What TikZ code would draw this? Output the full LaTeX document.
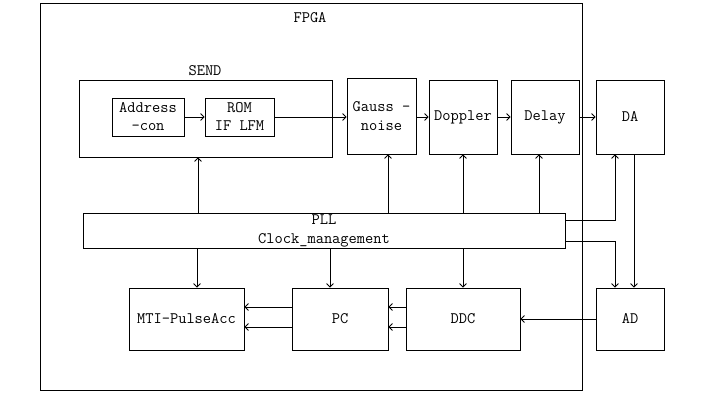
\documentclass[tikz,border=0pt]{standalone}
\usepackage{fontspec}
\usetikzlibrary{arrows.meta}

\begin{document}
\begin{tikzpicture}[x=1pt,y=-1pt,line width=0.8pt,
   every node/.style={font=\ttfamily\fontsize{16}{19}\selectfont},
   blk/.style={draw,inner sep=0pt,align=center},
   arr/.style={-{Straight Barb[length=3.5pt,width=7pt]}}]
   \useasboundingbox (0,0) rectangle (704,419);
   \node[blk,minimum width=542,minimum height=387] (fpga) at (311,196.5) {};
   \node (fpgalbl) at (310,18) {FPGA};
   \node[blk,minimum width=253,minimum height=77] (send) at (205.5,118.5) {};
   \node (sendlbl) at (205,71) {SEND};
   \node[blk,minimum width=72,minimum height=38] (addr) at (148,117) {Address\\[-1pt]-con};
   \node[blk,minimum width=69,minimum height=38] (rom) at (239.5,117) {ROM\\[-1pt]IF LFM};
   \node[blk,minimum width=69,minimum height=76] (gauss) at (381.5,116) {Gauss -\\noise};
   \node[blk,minimum width=68,minimum height=74] (doppler) at (463,117) {Doppler};
   \node[blk,minimum width=68,minimum height=74] (delay) at (545,117) {Delay};
   \node[blk,minimum width=68,minimum height=74] (da) at (630,117) {DA};
   \node[blk,minimum width=482,minimum height=35] (pll) at (324,230.5) {PLL\\[0pt]Clock\_management};
   \node[blk,minimum width=115,minimum height=62] (mti) at (186.5,319) {MTI-PulseAcc};
   \node[blk,minimum width=96,minimum height=62] (pc) at (340,319) {PC};
   \node[blk,minimum width=114,minimum height=62] (ddc) at (463,319) {DDC};
   \node[blk,minimum width=68,minimum height=62] (ad) at (630,319) {AD};
   \draw[arr] (addr) -- (rom);
   \draw[arr] (rom.east) -- (rom.east -| gauss.west);
   \draw[arr] (gauss.east |- doppler) -- (doppler);
   \draw[arr] (doppler) -- (delay);
   \draw[arr] (delay) -- (da);
   \draw[arr] (pll.north -| 198,0) -- (send.south -| 198,0);
   \draw[arr] (pll.north -| 388,0) -- (gauss.south -| 388,0);
   \draw[arr] (pll.north -| doppler) -- (doppler);
   \draw[arr] (pll.north -| 539,0) -- (delay.south -| 539,0);
   \draw[arr] (pll.south -| 197,0) -- (mti.north -| 197,0);
   \draw[arr] (pll.south -| 330,0) -- (pc.north -| 330,0);
   \draw[arr] (pll.south -| ddc) -- (ddc);
   \draw[arr] (pll.east |- 0,220) -| (da.south -| 615,0);
   \draw[arr] (pll.east |- 0,241) -| (ad.north -| 615,0);
   \draw[arr] (da.south -| 634,0) -- (ad.north -| 634,0);
   \draw[arr] (ad) -- (ddc);
   \draw[arr] (ddc.west |- 0,307) -- (pc.east |- 0,307);
   \draw[arr] (ddc.west |- 0,327) -- (pc.east |- 0,327);
   \draw[arr] (pc.west |- 0,307) -- (mti.east |- 0,307);
   \draw[arr] (pc.west |- 0,327) -- (mti.east |- 0,327);
\end{tikzpicture}
\end{document}
